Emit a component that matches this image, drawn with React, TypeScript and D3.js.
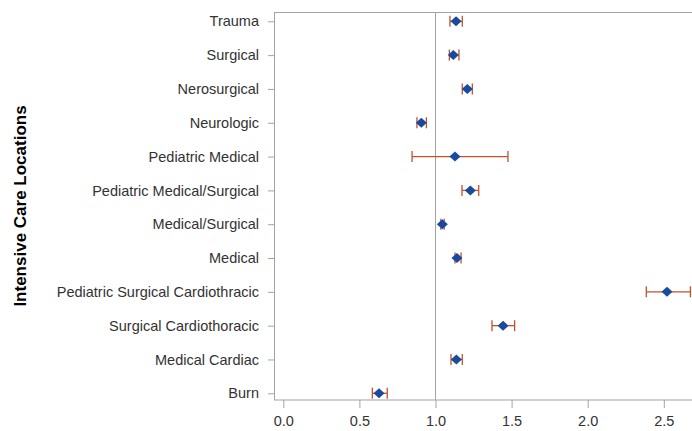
import { useRef, useEffect } from 'react';
import { select, scaleLinear, scalePoint, axisBottom, axisLeft, symbol } from 'd3';

const categories = [
    'Trauma',
    'Surgical',
    'Nerosurgical',
    'Neurologic',
    'Pediatric Medical',
    'Pediatric Medical/Surgical',
    'Medical/Surgical',
    'Medical',
    'Pediatric Surgical Cardiothracic',
    'Surgical Cardiothoracic',
    'Medical Cardiac',
    'Burn',
];
const estimates = [1.135, 1.117, 1.209, 0.907, 1.128, 1.229, 1.045, 1.141, 2.521, 1.444, 1.137, 0.629];
const lower = [1.095, 1.091, 1.176, 0.878, 0.846, 1.174, 1.035, 1.128, 2.385, 1.371, 1.102, 0.585];
const upper = [1.176, 1.154, 1.242, 0.940, 1.476, 1.284, 1.057, 1.168, 2.675, 1.520, 1.176, 0.683];
const xTicks = [0, 0.5, 1, 1.5, 2, 2.5];
const refValue = 1;

const W = 692;
const H = 431;
const margin = { top: 12, right: -8, bottom: 31, left: 274 };
const width = W - margin.left - margin.right;
const height = H - margin.top - margin.bottom;
const font = '"Liberation Sans", Arial, sans-serif';

// SAS-like diamond marker, a touch wider than tall
const diamond = {
    draw(ctx: any, size: number) {
        const w = Math.sqrt(size) * 0.55;
        const h = Math.sqrt(size) * 0.5;
        ctx.moveTo(0, -h);
        ctx.lineTo(w, 0);
        ctx.lineTo(0, h);
        ctx.lineTo(-w, 0);
        ctx.closePath();
    },
};

const ForestPlot = () => {
    const d3svg = useRef<SVGSVGElement>(null);

    useEffect(() => {
        if (!d3svg.current) return;
        select(d3svg.current).selectAll('*').remove();

        const svg = select(d3svg.current)
            .append('g')
            .attr('transform', `translate(${margin.left}, ${margin.top})`);

        const x = scaleLinear().domain([0, 2.685]).range([9.3, 9.3 + 2.685 * 152.2]);
        const y = scalePoint().domain(categories).range([9.3, height - 6.7]);

        // frame
        svg.append('rect')
            .attr('x', 0.5)
            .attr('y', 0.5)
            .attr('width', width)
            .attr('height', height - 0.5)
            .attr('fill', 'none')
            .attr('stroke', '#a3a3a3');

        // reference line
        svg.append('line')
            .attr('x1', x(refValue))
            .attr('x2', x(refValue))
            .attr('y1', 0)
            .attr('y2', height)
            .attr('stroke', '#a3a3a3');

        const xAxisGroup = svg.append('g').attr('transform', `translate(0, ${height})`);
        xAxisGroup
            .call(axisBottom(x).tickValues(xTicks).tickFormat((d: any) => d.toFixed(1)).tickSize(8).tickPadding(8))
            .style('font-size', '14.5px')
            .style('font-family', font);
        xAxisGroup.select('.domain').remove();
        xAxisGroup.selectAll('line').attr('stroke', '#a3a3a3');
        xAxisGroup.selectAll('text').attr('fill', '#333');

        const yAxisGroup = svg.append('g');
        yAxisGroup
            .call(axisLeft(y).tickSize(6).tickPadding(9))
            .style('font-size', '14.5px')
            .style('font-family', font);
        yAxisGroup.select('.domain').remove();
        yAxisGroup.selectAll('line').attr('stroke', '#a3a3a3');
        yAxisGroup.selectAll('text').attr('fill', '#333');

        // y title
        svg.append('text')
            .attr('transform', `translate(${20 - margin.left}, ${206 - margin.top}) rotate(-90)`)
            .attr('text-anchor', 'middle')
            .attr('dominant-baseline', 'central')
            .style('font-size', '17px')
            .style('font-weight', 'bold')
            .style('font-family', font)
            .attr('fill', '#000')
            .text('Intensive Care Locations');

        const rows = categories.map((c, i) => ({ c, est: estimates[i], lo: lower[i], hi: upper[i] }));
        const errColor = '#c0532b';

        const g = svg.selectAll('.row').data(rows).enter().append('g').attr('class', 'row');
        g.append('line')
            .attr('x1', d => x(d.lo))
            .attr('x2', d => x(d.hi))
            .attr('y1', d => y(d.c)!)
            .attr('y2', d => y(d.c)!)
            .attr('stroke', errColor)
            .attr('stroke-width', 1.3);
        g.append('line')
            .attr('x1', d => x(d.lo))
            .attr('x2', d => x(d.lo))
            .attr('y1', d => y(d.c)! - 5.5)
            .attr('y2', d => y(d.c)! + 5.5)
            .attr('stroke', errColor)
            .attr('stroke-width', 1.3);
        g.append('line')
            .attr('x1', d => x(d.hi))
            .attr('x2', d => x(d.hi))
            .attr('y1', d => y(d.c)! - 5.5)
            .attr('y2', d => y(d.c)! + 5.5)
            .attr('stroke', errColor)
            .attr('stroke-width', 1.3);
        g.append('path')
            .attr('d', symbol().type(diamond as any).size(100)())
            .attr('transform', d => `translate(${x(d.est)}, ${y(d.c)})`)
            .attr('fill', '#1a4a9e');
    }, []);

    return (
        <svg
            width={W}
            height={H}
            ref={d3svg}
            style={{ position: 'absolute', left: 0, top: 0, background: '#fff' }}
        ></svg>
    );
};

export default function App() {
    return <ForestPlot />;
}
